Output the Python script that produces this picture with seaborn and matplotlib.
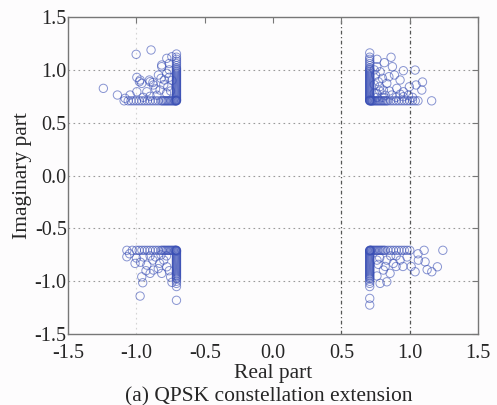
import numpy as np
import pandas as pd
import matplotlib
matplotlib.use("Agg")
import matplotlib.pyplot as plt
import seaborn as sns

sns.set_style("white")
plt.rcParams["font.family"] = ["Liberation Serif", "DejaVu Serif"]

# magnitudes per quadrant; the corner of the QPSK symbol is at 0.707
corner = 0.707

# points lying on the clipped row (|Im| = 0.707), values are |Re|
q1_row = [0.707, 0.71, 0.715, 0.72, 0.725, 0.73, 0.74, 0.75, 0.76, 0.77, 0.78, 0.79, 0.80, 0.81,
          0.82, 0.83, 0.84, 0.86, 0.88, 0.90, 0.92, 0.94, 0.96, 0.98, 1.0, 1.02, 1.04, 1.06, 1.16]
q2_row = [0.707, 0.71, 0.715, 0.72, 0.73, 0.74, 0.75, 0.76, 0.77, 0.78, 0.79, 0.80, 0.81, 0.82,
          0.84, 0.86, 0.88, 0.90, 0.92, 0.94, 0.96, 0.98, 1.0, 1.02, 1.04, 1.06, 1.09]
q3_row = [0.707, 0.71, 0.715, 0.72, 0.73, 0.74, 0.75, 0.76, 0.77, 0.78, 0.79, 0.80, 0.81, 0.82,
          0.84, 0.86, 0.88, 0.90, 0.92, 0.94, 0.96, 0.98, 1.0, 1.03, 1.07]
q4_row = [0.707, 0.71, 0.715, 0.72, 0.73, 0.74, 0.75, 0.76, 0.77, 0.78, 0.79, 0.80, 0.81, 0.82,
          0.84, 0.86, 0.88, 0.90, 0.92, 0.94, 0.96, 0.98, 1.0, 1.105, 1.242]

# points lying on the clipped column (|Re| = 0.707), values are |Im|
q1_col = [0.71, 0.715, 0.72, 0.73, 0.74, 0.75, 0.76, 0.77, 0.78, 0.79, 0.80, 0.81, 0.82, 0.83,
          0.84, 0.85, 0.86, 0.87, 0.88, 0.89, 0.90, 0.91, 0.92, 0.93, 0.94, 0.95, 0.96, 0.97,
          0.98, 0.99, 1.0, 1.01, 1.02, 1.04, 1.06, 1.08, 1.10, 1.12, 1.16]
q2_col = [0.71, 0.715, 0.72, 0.73, 0.74, 0.75, 0.76, 0.77, 0.78, 0.79, 0.80, 0.81, 0.82, 0.83,
          0.84, 0.85, 0.86, 0.87, 0.88, 0.89, 0.90, 0.91, 0.92, 0.93, 0.94, 0.95, 0.96, 0.97,
          0.98, 0.99, 1.0, 1.01, 1.02, 1.04, 1.06, 1.08, 1.10, 1.12, 1.15]
q3_col = [0.71, 0.715, 0.72, 0.73, 0.74, 0.75, 0.76, 0.77, 0.78, 0.79, 0.80, 0.81, 0.82, 0.83,
          0.84, 0.85, 0.86, 0.87, 0.88, 0.89, 0.90, 0.91, 0.92, 0.93, 0.94, 0.95, 0.96, 0.97,
          0.98, 1.0, 1.02, 1.05, 1.18]
q4_col = [0.71, 0.715, 0.72, 0.73, 0.74, 0.75, 0.76, 0.77, 0.78, 0.79, 0.80, 0.81, 0.82, 0.83,
          0.84, 0.85, 0.86, 0.87, 0.88, 0.89, 0.90, 0.91, 0.92, 0.93, 0.94, 0.95, 0.96, 0.97,
          0.98, 1.0, 1.02, 1.05, 1.162, 1.225]

# extended points away from the clipping lines (|Re|, |Im|)
q1_re = [0.863, 0.814, 0.759, 0.953, 1.039, 0.873, 0.888, 0.929, 1.093, 1.046, 1.088, 0.997, 0.953,
         0.783, 0.770, 0.832, 0.905, 0.807, 0.868, 0.953, 0.759, 0.847, 0.78, 0.75, 0.80, 0.82,
         0.90, 0.76, 0.78, 0.74, 0.99, 1.02, 0.85, 0.93, 0.76, 0.80, 0.74, 0.74]
q1_im = [1.119, 1.068, 1.030, 0.992, 0.998, 1.030, 0.951, 0.904, 0.885, 0.857, 0.809, 0.840, 0.793,
         0.982, 0.888, 0.872, 0.825, 0.809, 0.762, 0.746, 0.778, 0.935, 0.84, 0.95, 0.92, 0.76,
         0.74, 1.10, 0.80, 0.86, 0.76, 0.74, 0.80, 0.77, 0.74, 0.74, 0.78, 1.00]
q2_re = [1.002, 0.893, 1.242, 1.139, 0.973, 0.961, 0.900, 0.876, 0.839, 0.815, 0.778, 0.760, 0.778,
         0.795, 0.827, 0.924, 0.997, 1.046, 1.083, 0.741, 0.76, 0.74, 0.77, 0.997, 0.978, 0.905,
         0.88, 0.815, 0.78, 0.85, 0.80, 0.75, 0.90, 0.95, 0.76, 0.82, 0.86]
q2_im = [1.147, 1.188, 0.825, 0.762, 0.904, 0.872, 0.888, 0.857, 0.951, 1.030, 1.109, 1.060, 0.967,
         0.904, 0.809, 0.793, 0.793, 0.762, 0.731, 1.124, 1.00, 0.90, 0.84, 0.929, 0.888, 0.904,
         0.88, 1.046, 0.78, 0.76, 0.86, 0.80, 0.75, 0.74, 0.93, 0.92, 0.82]
q3_re = [1.070, 1.010, 0.961, 0.954, 0.973, 0.924, 0.876, 0.815, 0.83, 0.778, 0.75, 0.74, 0.90,
         1.00, 1.05, 0.95, 0.86, 0.80, 0.88, 0.93, 0.78, 0.76, 0.84, 0.82, 0.90, 0.97]
q3_im = [0.768, 0.831, 0.958, 1.014, 1.140, 0.847, 0.894, 0.925, 0.83, 0.863, 0.96, 1.01, 0.925,
         0.78, 0.74, 0.77, 0.77, 0.80, 0.80, 0.90, 0.76, 0.90, 0.88, 0.75, 0.76, 0.82]
q4_re = [1.063, 1.112, 1.202, 1.161, 1.127, 1.039, 1.010, 0.929, 0.880, 0.832, 0.807, 0.856, 0.832,
         0.783, 0.76, 0.95, 0.77, 0.90, 0.98, 0.78, 0.86, 1.06, 0.82, 0.90, 0.76]
q4_im = [0.800, 0.816, 0.863, 0.910, 0.890, 0.910, 0.860, 0.800, 0.831, 0.800, 0.894, 0.925, 1.005,
         1.020, 0.95, 0.86, 0.84, 0.76, 0.77, 0.78, 0.76, 0.74, 0.86, 0.86, 0.80]

quadrants = [
    (1, 1, q1_row, q1_col, q1_re, q1_im),
    (-1, 1, q2_row, q2_col, q2_re, q2_im),
    (-1, -1, q3_row, q3_col, q3_re, q3_im),
    (1, -1, q4_row, q4_col, q4_re, q4_im),
]

rows = []
for sr, si, row, col, re, im in quadrants:
    for v in row:
        rows.append((sr * v, si * corner))
    for v in col:
        rows.append((sr * corner, si * v))
    for a, b in zip(re, im):
        rows.append((sr * a, si * b))
df = pd.DataFrame(rows, columns=["re", "im"])

fig = plt.figure(figsize=(4.97, 4.05), dpi=100)
ax = fig.add_axes([0.137, 0.175, 0.825, 0.783])
ax.set_facecolor("#fdfcfd")
fig.patch.set_facecolor("#fdfcfd")

# grid: horizontal dotted, only a few vertical lines survive in the original
for y in [-1.0, -0.5, 0.0, 0.5, 1.0]:
    ax.axhline(y, color="#9a9a9a", lw=0.8, ls=(0, (1.5, 3)), zorder=0)
ax.axvline(-1.0, color="#d4d4d4", lw=0.8, ls=(0, (1.5, 3)), zorder=0)
for x in [0.5, 1.0]:
    ax.axvline(x, color="#555555", lw=0.9, ls=(0, (3, 2, 1, 2)), zorder=0)

sns.scatterplot(data=df, x="re", y="im", marker="o", s=36, facecolor="none",
                edgecolor="#3a4fb5", linewidth=0.7, alpha=0.6, ax=ax, legend=False)

ax.set_xlim(-1.5, 1.5)
ax.set_ylim(-1.5, 1.5)
ticks = [-1.5, -1.0, -0.5, 0.0, 0.5, 1.0, 1.5]
ax.set_xticks(ticks)
ax.set_yticks(ticks)
ax.set_xticklabels(["%.1f" % t for t in ticks])
ax.set_yticklabels(["%.1f" % t for t in ticks])
ax.tick_params(direction="in", length=4, width=0.8, color="#777777", labelsize=14.5,
               top=True, right=True)
ax.tick_params(axis="x", pad=7)
ax.tick_params(axis="y", pad=1)
for sp in ax.spines.values():
    sp.set_color("#777777")
    sp.set_linewidth(1.0)

ax.set_xlabel("Real part", fontsize=15.5, labelpad=1)
ax.set_ylabel("Imaginary part", fontsize=15.5, labelpad=2)
fig.text(0.54, 0.009, "(a) QPSK constellation extension", ha="center", va="baseline",
         fontsize=15.5)

fig.savefig("out.png", dpi=100, facecolor=fig.get_facecolor())
